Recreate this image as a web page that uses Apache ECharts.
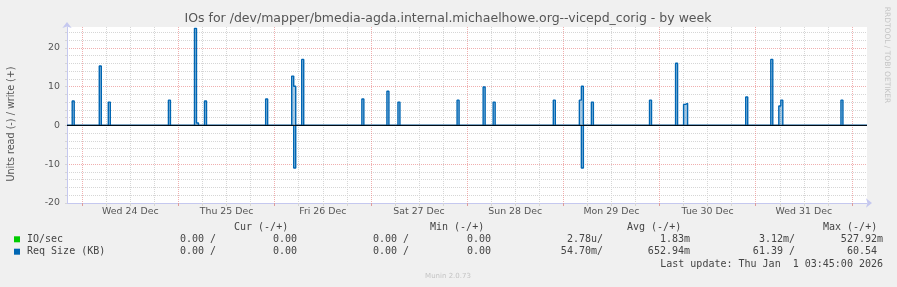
<!DOCTYPE html>
<html><head><meta charset="utf-8">
<script src="https://cdn.jsdelivr.net/npm/echarts@6/dist/echarts.min.js"></script>
<style>html,body{margin:0;padding:0;background:#f0f0f0}#c{width:897px;height:287px}</style>
</head><body><div id="c"></div>
<script>
// x values: hours from Wed 24 Dec 00:00
const X_MIN = -3.8, X_MAX = 195.75;
const SAMPLE = 0.5; // 30 minute samples
const dayLabels = ['Wed 24 Dec','Thu 25 Dec','Fri 26 Dec','Sat 27 Dec','Sun 28 Dec','Mon 29 Dec','Tue 30 Dec','Wed 31 Dec'];
const dayLabelHours = [12,36,60,84,108,132,156,180];
const dayLineHours = [0,24,48,72,96,120,144,168,192];
const gridHours = [0,6,12,18,24,30,36,42,48,54,60,66,72,78,84,90,96,102,108,114,120,126,132,138,144,150,156,162,168,174,180,186,192];
const yTicks = [-20,-18,-16,-14,-12,-10,-8,-6,-4,-2,0,2,4,6,8,10,12,14,16,18,20,22,24];
const yLabelTicks = [-20,-10,0,10,20];

// Req Size (KB): write (+) and read (-) samples
const writeTimes  = [-2.5, 4.25, 6.5, 21.5, 28.0, 28.5, 30.5, 45.75, 52.25, 52.75, 54.75, 69.75, 76.0, 78.75, 93.5, 100.0, 102.5, 117.5, 124.0, 124.5, 127.0, 141.5, 148.0, 150.0, 150.5, 165.5, 171.75, 173.75, 174.25, 189.25];
const writeValues = [6.3, 15.3, 6.0, 6.5, 25.0, 0.6, 6.3, 6.8, 12.7, 10.1, 17.0, 6.8, 8.8, 6.0, 6.5, 9.9, 6.0, 6.5, 6.5, 10.1, 6.0, 6.5, 16.0, 5.4, 5.7, 7.3, 17.0, 5.0, 6.5, 6.5];
const readTimes  = [52.75, 124.5];
const readValues = [11.0, 11.0];

const legendRows = [
  {name:'IO/sec', color:'#00cc00', vals:['0.00 /','0.00','0.00 /','0.00','2.78u/','1.83m','3.12m/','527.92m']},
  {name:'Req Size (KB)', color:'#0066b3', vals:['0.00 /','0.00','0.00 /','0.00','54.70m/','652.94m','61.39 /','60.54']}
];
const headers = ['Cur (-/+)','Min (-/+)','Avg (-/+)','Max (-/+)'];

function buildSteps(times, values, sign) {
  const pts = [[X_MIN, 0]];
  for (let i = 0; i < times.length; i++) {
    const t = times[i], v = sign * values[i];
    if (i === 0 || Math.abs(times[i-1] + SAMPLE - t) > 1e-9) pts.push([t, 0]);
    pts.push([t, v]); pts.push([t + SAMPLE, v]);
    if (i === times.length - 1 || Math.abs(times[i+1] - (t + SAMPLE)) > 1e-9) pts.push([t + SAMPLE, 0]);
  }
  pts.push([X_MAX, 0]);
  return pts;
}

const RED = 'rgba(228,110,110,0.55)', GRAY = '#d6d6d6', AXIS = '#c5c8ef';
const mono = '"DejaVu Sans Mono", monospace';
const sans = '"DejaVu Sans", sans-serif';

const graphic = [];
const headerX = [234, 430, 627, 823];
headers.forEach((h, i) => graphic.push({type:'text', left:headerX[i], top:222, style:{text:h, font:'10px '+mono, fill:'#444'}}));
const valRight = [216, 297, 409, 491, 603, 690, 795, 883];
const valRight2 = [216, 297, 409, 491, 603, 690, 795, 877];
legendRows.forEach((r, ri) => {
  const cy = 239.3 + ri * 12.4;
  graphic.push({type:'rect', shape:{x:14, y:cy-3, width:6, height:6}, style:{fill:r.color}});
  graphic.push({type:'text', x:27, y:cy, style:{text:r.name, font:'10px '+mono, fill:'#444', verticalAlign:'middle'}});
  r.vals.forEach((v, i) => graphic.push({type:'text', x:(ri===0?valRight:valRight2)[i], y:cy, style:{text:v, font:'10px '+mono, fill:'#444', align:'right', verticalAlign:'middle'}}));
});
graphic.push({type:'text', x:883, y:264, style:{text:'Last update: Thu Jan  1 03:45:00 2026', font:'10px '+mono, fill:'#444', align:'right', verticalAlign:'middle'}});
graphic.push({type:'text', x:448, y:276, style:{text:'Munin 2.0.73', font:'7px '+sans, fill:'#c4c4c4', align:'center', verticalAlign:'middle'}});
graphic.push({type:'text', x:887, y:55, rotation:-Math.PI/2, style:{text:'RRDTOOL / TOBI OETIKER', font:'7.5px '+sans, fill:'#c4c4c4', align:'center', verticalAlign:'middle'}});
graphic.push({type:'text', x:448, y:19, style:{text:'IOs for /dev/mapper/bmedia-agda.internal.michaelhowe.org--vicepd_corig - by week', font:'12.5px '+sans, fill:'#555', align:'center', verticalAlign:'middle'}});
graphic.push({type:'text', x:11, y:124, rotation:Math.PI/2, style:{text:'Units read (-) / write (+)', font:'9.6px '+sans, fill:'#555', align:'center', verticalAlign:'middle'}});

const chart = echarts.init(document.getElementById('c'), null, {renderer:'canvas'});
chart.setOption({
  animation: false,
  backgroundColor: '#f0f0f0',
  graphic: graphic,
  grid: {left:67, right:30, top:27, bottom:84, show:true, backgroundColor:'#ffffff', borderWidth:0},
  xAxis: [{
    type:'value', min:X_MIN, max:X_MAX, position:'bottom',
    axisLine:{onZero:false, lineStyle:{color:AXIS, width:1}, symbol:['none','arrow'], symbolSize:[7,6], symbolOffset:[0,5]},
    axisTick:{show:true, length:3, customValues:gridHours, lineStyle:{color:GRAY}},
    axisLabel:{customValues:dayLabelHours, formatter:v => dayLabels[dayLabelHours.indexOf(v)] || '', color:'#555', fontSize:9.4, fontFamily:sans, margin:4, hideOverlap:false},
    splitLine:{show:true, lineStyle:{color:[RED,GRAY,GRAY,GRAY], type:'dotted', width:1}}
  },{
    type:'value', min:X_MIN, max:X_MAX, position:'bottom', offset:0,
    axisLine:{show:false, onZero:false},
    axisTick:{show:true, length:3, customValues:dayLineHours, lineStyle:{color:RED}},
    axisLabel:{show:false},
    splitLine:{show:false}
  }],
  yAxis: {
    type:'value', min:-20, max:25.35,
    axisLine:{show:true, onZero:false, lineStyle:{color:AXIS, width:1}, symbol:['none','arrow'], symbolSize:[7,6], symbolOffset:[0,5]},
    axisTick:{show:true, length:2, customValues:yTicks, lineStyle:{color:GRAY}},
    axisLabel:{customValues:yLabelTicks, color:'#555', fontSize:9.4, fontFamily:sans, margin:7},
    splitLine:{show:true, lineStyle:{color:[RED,GRAY,GRAY,GRAY,GRAY], type:'dotted', width:1}}
  },
  series: [
    {type:'line', name:'Req Size (KB) write', data:buildSteps(writeTimes, writeValues, 1), showSymbol:false, symbol:'none',
     lineStyle:{color:'#0066b3', width:1.4}, areaStyle:{color:'rgba(0,102,179,0.5)'}, z:3},
    {type:'line', name:'Req Size (KB) read', data:buildSteps(readTimes, readValues, -1), showSymbol:false, symbol:'none',
     lineStyle:{color:'#0066b3', width:1.4}, areaStyle:{color:'rgba(0,102,179,0.5)'}, z:3},
    {type:'line', name:'zero', data:[[X_MIN,0],[X_MAX,0]], showSymbol:false, symbol:'none',
     lineStyle:{color:'#000', width:1}, z:4, silent:true}
  ]
});
</script></body></html>
